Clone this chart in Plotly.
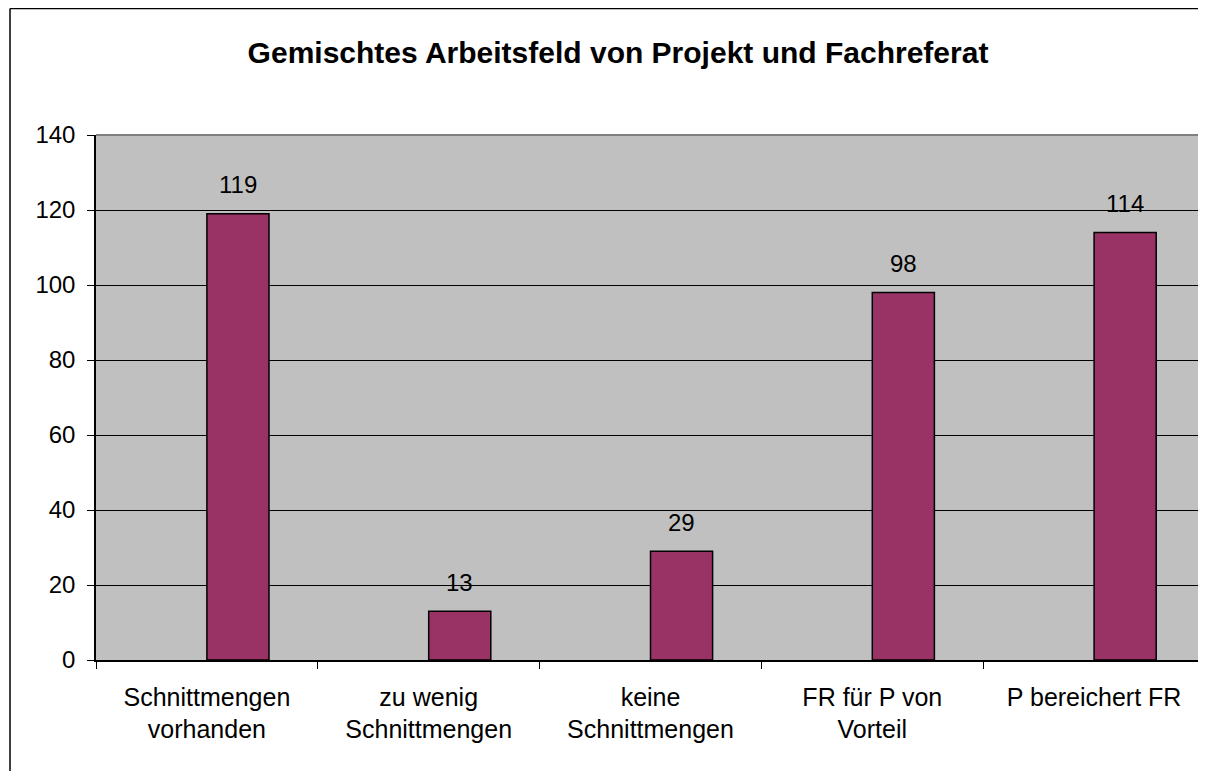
import plotly.graph_objects as go

categories = ["Schnittmengen<br>vorhanden", "zu wenig<br>Schnittmengen", "keine<br>Schnittmengen",
              "FR für P von<br>Vorteil", "P bereichert FR"]
values = [119, 13, 29, 98, 114]
title_text = "Gemischtes Arbeitsfeld von Projekt und Fachreferat"

FONT = "Liberation Sans, Arial, sans-serif"
# page body has an 8px margin, so the figure is a bit smaller than the window
W, H = 1198, 763
L, R, T = 88, 1, 127
pw = W - L - R
ph = 525
B = H - T - ph

fig = go.Figure()
fig.add_trace(go.Bar(
    x=categories, y=values,
    width=0.28, offset=0,
    marker=dict(color="#993366", line=dict(color="black", width=1.5)),
    hoverinfo="skip",
))

for c, v in zip(categories, values):
    fig.add_annotation(x=c, y=v, text=str(v), showarrow=False, xshift=pw / 5 * 0.14,
                       yshift=29, font=dict(family=FONT, size=24, color="black"))

# outer chart border (extends beyond window at right and bottom)
bx = (2 - L) / pw
by = 1 + (T - 0.5) / ph
fig.add_shape(type="line", xref="paper", yref="paper", x0=bx, x1=1.2, y0=by, y1=by,
              line=dict(color="black", width=1.5))
fig.add_shape(type="line", xref="paper", yref="paper", x0=bx, x1=bx, y0=by, y1=-0.5,
              line=dict(color="black", width=1.5))
# plot area top / right border
fig.add_shape(type="line", xref="paper", yref="paper", x0=0, x1=1, y0=1, y1=1,
              line=dict(color="#808080", width=2), layer="below")
fig.add_shape(type="line", xref="paper", yref="paper", x0=1, x1=1, y0=0, y1=1,
              line=dict(color="#808080", width=2), layer="below")

fig.update_layout(
    width=W, height=H,
    margin=dict(l=L, r=R, t=T, b=B),
    paper_bgcolor="white", plot_bgcolor="#C0C0C0",
    showlegend=False,
    title=dict(text="<b>" + title_text + "</b>", x=610 / W, xanchor="center",
               y=1 - 44 / H, yanchor="middle",
               font=dict(family=FONT, size=30, color="black")),
    font=dict(family=FONT, size=24, color="black"),
    xaxis=dict(type="category", tickson="boundaries", ticks="outside", ticklen=7,
               tickcolor="black", tickwidth=1, showgrid=False, showline=True,
               linecolor="black", linewidth=1.5, range=[-0.5, 4.5],
               ticklabelstandoff=14,
               tickfont=dict(family=FONT, size=25, color="black")),
    yaxis=dict(range=[0, 140], dtick=20, ticks="outside", ticklen=7, tickcolor="black",
               tickwidth=1, showgrid=True, gridcolor="black", gridwidth=1,
               zeroline=False, showline=True, linecolor="black", linewidth=1.5,
               ticklabelstandoff=7,
               tickfont=dict(family=FONT, size=24, color="black")),
)

fig.write_html("out.html")
